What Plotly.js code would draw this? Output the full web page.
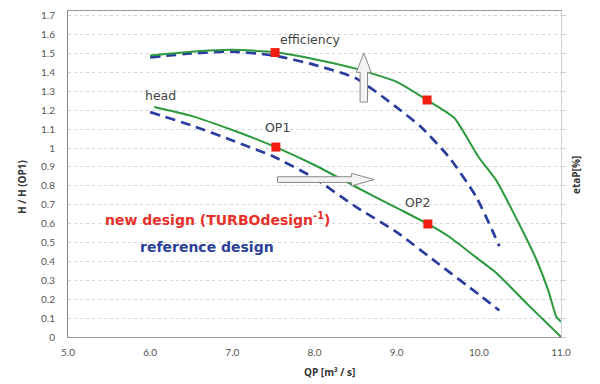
<!DOCTYPE html>
<html>
<head>
<meta charset="utf-8">
<script src="https://cdn.plot.ly/plotly-3.0.1.min.js"></script>
<style>html,body{margin:0;padding:0;background:#fff;}#chart{width:600px;height:384px;}</style>
</head>
<body>
<div id="chart"></div>
<script>
// Efficiency curves
const effNewX = [6.0, 6.5, 7.0, 7.5, 8.0, 8.5, 9.0, 9.37, 9.7, 10.0, 10.21, 10.5, 10.7, 10.85, 10.94, 11.0];
const effNewY = [1.49, 1.51, 1.52, 1.508, 1.47, 1.42, 1.35, 1.254, 1.16, 0.95, 0.83, 0.59, 0.41, 0.24, 0.11, 0.08];
const effRefX = [6.0, 6.5, 7.0, 7.5, 8.0, 8.5, 9.0, 9.3, 9.64, 9.97, 10.25];
const effRefY = [1.48, 1.50, 1.51, 1.49, 1.44, 1.37, 1.215, 1.11, 0.95, 0.74, 0.48];
// Head curves
const headNewX = [6.05, 6.5, 7.0, 7.5, 8.0, 8.5, 9.0, 9.38, 9.66, 10.0, 10.21, 10.6, 11.0];
const headNewY = [1.217, 1.17, 1.095, 1.01, 0.91, 0.795, 0.683, 0.598, 0.524, 0.41, 0.34, 0.17, 0.0];
const headRefX = [6.0, 6.5, 7.0, 7.5, 8.0, 8.5, 9.0, 9.5, 10.0, 10.25];
const headRefY = [1.19, 1.12, 1.04, 0.955, 0.84, 0.69, 0.555, 0.39, 0.225, 0.14];
// Operating points (new design)
const opX = [7.52, 9.37, 7.53, 9.38];
const opY = [1.505, 1.254, 1.005, 0.598];
// Tick values
const xTicks = [5, 6, 7, 8, 9, 10, 11];
const yTicks = [0, 0.1, 0.2, 0.3, 0.4, 0.5, 0.6, 0.7, 0.8, 0.9, 1, 1.1, 1.2, 1.3, 1.4, 1.5, 1.6, 1.7];

const green = '#2b9a3c';
const blue = '#2a3c9e';
const red = '#f01d10';

const traces = [
  {x: effRefX, y: effRefY, mode: 'lines', line: {color: blue, width: 2.7, dash: '10px,6px', shape: 'spline', smoothing: 0.6}, hoverinfo: 'skip'},
  {x: headRefX, y: headRefY, mode: 'lines', line: {color: blue, width: 2.7, dash: '10px,6px', shape: 'spline', smoothing: 0.6}, hoverinfo: 'skip'},
  {x: effNewX, y: effNewY, mode: 'lines', line: {color: green, width: 2, shape: 'spline', smoothing: 0.5}, hoverinfo: 'skip'},
  {x: headNewX, y: headNewY, mode: 'lines', line: {color: green, width: 2, shape: 'spline', smoothing: 0.5}, hoverinfo: 'skip'},
  {x: opX, y: opY, mode: 'markers', marker: {symbol: 'square', size: 9, color: red}, hoverinfo: 'skip'},
  {x: [11], y: [0], yaxis: 'y2', mode: 'markers', marker: {opacity: 0}, hoverinfo: 'skip'}
];

const tickFont = {family: 'Lato, "Open Sans", sans-serif', size: 10, color: '#555'};
const titleFont = {family: '"Open Sans", sans-serif', size: 10, color: '#333'};
const labelFont = {family: '"DejaVu Sans", sans-serif', size: 12.5, color: '#444'};

const layout = {
  width: 600, height: 384,
  margin: {l: 68, r: 39, t: 11, b: 47},
  paper_bgcolor: '#fff', plot_bgcolor: '#fff',
  showlegend: false,
  xaxis: {
    range: [5, 11], tickvals: xTicks, tickformat: '.1f',
    showgrid: false, zeroline: false,
    showline: true, mirror: true, linecolor: '#999', linewidth: 1,
    ticks: '', tickfont: tickFont, ticklabelstandoff: 6
  },
  yaxis: {
    range: [0, 1.725], tickvals: yTicks,
    showgrid: true, gridcolor: '#d4d4d4', griddash: 'dot', gridwidth: 1,
    zeroline: false, showline: true, linecolor: '#888', linewidth: 1,
    ticks: '', tickfont: tickFont, ticklabelstandoff: 10
  },
  yaxis2: {
    overlaying: 'y', side: 'right', range: [0, 1.725], tickvals: yTicks,
    showgrid: false, zeroline: false, showline: true, linecolor: '#d0d0d0',
    ticks: 'outside', ticklen: 4, tickcolor: '#d0d0d0', showticklabels: false
  },
  shapes: [
    // vertical hollow arrow (efficiency improvement)
    {type: 'path', xref: 'x', yref: 'y',
     path: 'M 8.555 1.243 L 8.645 1.243 L 8.645 1.40 L 8.69 1.40 L 8.60 1.503 L 8.51 1.40 L 8.555 1.40 Z',
     fillcolor: '#f4f4f4', line: {color: '#8a8a8a', width: 1}},
    // horizontal hollow arrow (flow shift)
    {type: 'path', xref: 'x', yref: 'y',
     path: 'M 7.55 0.818 L 8.45 0.818 L 8.45 0.80 L 8.73 0.833 L 8.45 0.866 L 8.45 0.848 L 7.55 0.848 Z',
     fillcolor: '#f4f4f4', line: {color: '#8a8a8a', width: 1}}
  ],
  annotations: [
    // axis titles
    {xref: 'paper', yref: 'paper', x: 0.531, y: -0.107, yanchor: 'middle', text: '<b>QP [m³ / s]</b>',
     showarrow: false, font: titleFont},
    {xref: 'paper', yref: 'paper', x: 0, xshift: -55, y: 0.46, textangle: -90, text: '<b>H / H (OP1)</b>',
     showarrow: false, font: titleFont},
    {xref: 'paper', yref: 'paper', x: 1, xshift: 24, y: 0.497, textangle: -90, text: '<b>etaP[%]</b>',
     showarrow: false, font: titleFont},
    // curve labels
    {x: 7.95, y: 1.575, xref: 'x', yref: 'y', text: 'efficiency', showarrow: false, font: labelFont},
    {x: 6.12, y: 1.28, xref: 'x', yref: 'y', text: 'head', showarrow: false, font: labelFont},
    {x: 7.55, y: 1.11, xref: 'x', yref: 'y', text: 'OP1', showarrow: false, font: labelFont},
    {x: 9.25, y: 0.71, xref: 'x', yref: 'y', text: 'OP2', showarrow: false, font: labelFont},
    {x: 6.82, y: 0.625, xref: 'x', yref: 'y', text: '<b>new design (TURBOdesign<sup>-1</sup>)</b>', showarrow: false,
     font: {family: '"DejaVu Sans", sans-serif', size: 14, color: '#e8302a'}},
    {x: 6.69, y: 0.475, xref: 'x', yref: 'y', text: '<b>reference design</b>', showarrow: false,
     font: {family: '"DejaVu Sans", sans-serif', size: 14, color: '#2c3f9a'}}
  ]
};

Plotly.newPlot('chart', traces, layout, {staticPlot: true, displayModeBar: false});
</script>
</body>
</html>
